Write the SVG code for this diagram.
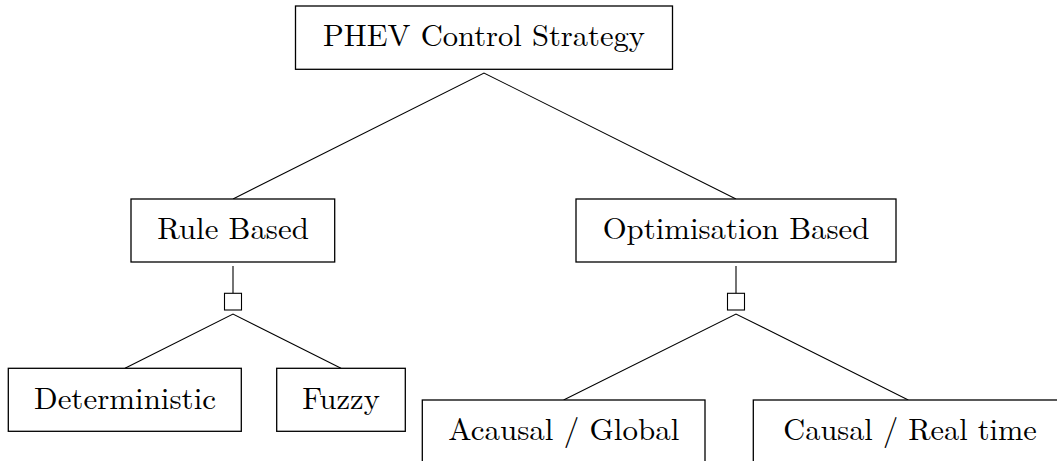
<svg xmlns="http://www.w3.org/2000/svg" width="1057" height="461" viewBox="0 0 1057 461">
<style>
.box{fill:#fff;stroke:#000;stroke-width:1.3}
.lbl{font-family:"Latin Modern Roman","Liberation Serif",serif;font-size:30.4px;fill:#000;text-anchor:middle}
.edge{fill:none;stroke:#000;stroke-width:1.1}
.junc{fill:#fff;stroke:#000;stroke-width:1.1}
</style>
<rect width="1057" height="461" fill="#fff"/>
<g id="connectors">
<polyline class="edge" points="233,199 484,73 736,199"/>
<line class="edge" x1="233" y1="266" x2="233" y2="293.3"/>
<rect class="junc" x="224.5" y="293.3" width="17" height="16.7"/>
<polyline class="edge" points="125,368.3 233,314 341,368.3"/>
<line class="edge" x1="736" y1="266" x2="736" y2="293.3"/>
<rect class="junc" x="727.5" y="293.3" width="17" height="16.7"/>
<polyline class="edge" points="563.6,400 736,314 908.3,400"/>
</g>
<g id="phev">
<rect class="box" x="295.5" y="6" width="377" height="63.3"/>
<text class="lbl" x="484" y="46" textLength="322" lengthAdjust="spacingAndGlyphs">PHEV Control Strategy</text>
</g>
<g id="rule">
<rect class="box" x="131" y="199" width="203.7" height="63"/>
<text class="lbl" x="233" y="239.3" textLength="151.6" lengthAdjust="spacingAndGlyphs">Rule Based</text>
</g>
<g id="opt">
<rect class="box" x="576" y="199" width="320" height="63"/>
<text class="lbl" x="736" y="239.3" textLength="266.7" lengthAdjust="spacingAndGlyphs">Optimisation Based</text>
</g>
<g id="det">
<rect class="box" x="8.3" y="368.3" width="233" height="63"/>
<text class="lbl" x="125" y="408.5" textLength="182" lengthAdjust="spacingAndGlyphs">Deterministic</text>
</g>
<g id="fuzzy">
<rect class="box" x="276.7" y="368.3" width="128.6" height="63"/>
<text class="lbl" x="341" y="408.5" textLength="77.7" lengthAdjust="spacingAndGlyphs">Fuzzy</text>
</g>
<g id="acausal">
<rect class="box" x="422.3" y="400" width="282.7" height="63"/>
<text class="lbl" x="563.8" y="440" textLength="231" lengthAdjust="spacingAndGlyphs">Acausal / Global</text>
</g>
<g id="causal">
<rect class="box" x="753.3" y="400" width="310" height="63"/>
<text class="lbl" x="910" y="440" textLength="253.4" lengthAdjust="spacingAndGlyphs">Causal / Real time</text>
</g>
</svg>
